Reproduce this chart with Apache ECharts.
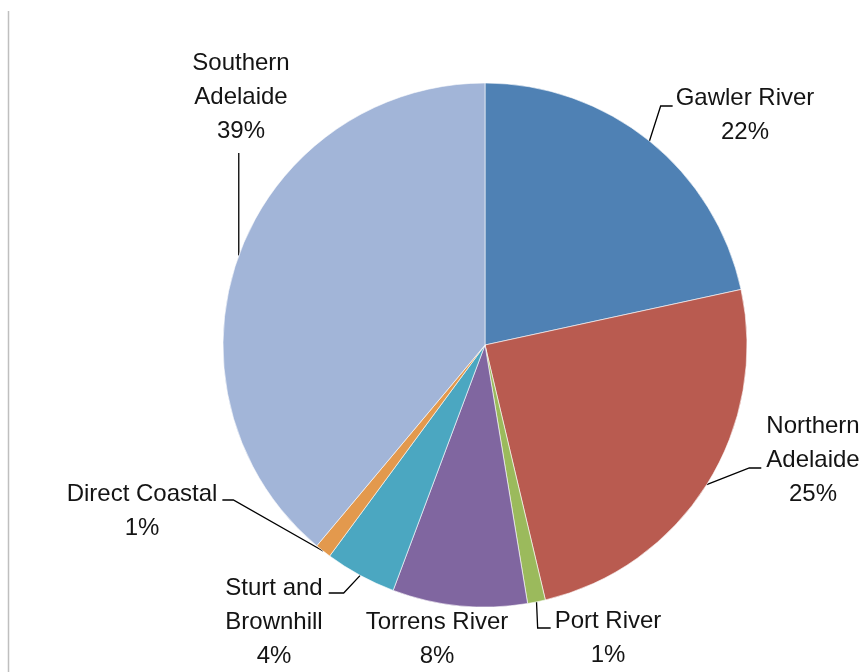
<!DOCTYPE html>
<html>
<head>
<meta charset="utf-8">
<script src="https://cdn.jsdelivr.net/npm/echarts@6/dist/echarts.min.js"></script>
<style>
  html, body { margin: 0; padding: 0; background: #fff; }
  #chart { width: 866px; height: 672px; }
</style>
</head>
<body>
<div id="chart"></div>
<script>
// Catchment areas (clockwise from 12 o'clock) and their shares
const catchments = ['Gawler River', 'Northern\nAdelaide', 'Port River', 'Torrens River',
                    'Sturt and\nBrownhill', 'Direct Coastal', 'Southern\nAdelaide'];
const shares = [21.6, 24.7, 1.1, 8.3, 4.4, 1.0, 38.9];
const sliceColors = ['#4F81B4', '#B95B50', '#9BBA5C', '#8066A0', '#4BA7C1', '#E3994D', '#A2B5D8'];

// Where each label block is centred, and how its leader line leaves it
const labelCentres = [[745, 115], [813, 460], [608, 638], [437, 639], [274, 622], [142, 511], [241, 97]];
// side: which edge of the label the leader meets; dy: offset from label centre; elbow: horizontal run
const leaders = [
  { side: 'left',  gap: 3, dy: -9,  elbow: 12 },
  { side: 'left',  gap: 5, dy: 8,   elbow: 12 },
  { side: 'left',  gap: 4, dy: -10, elbow: 13 },
  null,
  { side: 'right', gap: 6, dy: -29, elbow: 15 },
  { side: 'right', gap: 5, dy: -11, elbow: 11 },
  { side: 'bottom', gap: 5 }
];

const chart = echarts.init(document.getElementById('chart'), null, { renderer: 'canvas' });

const pieData = catchments.map((name, i) => ({
  name: name,
  value: shares[i],
  itemStyle: { color: sliceColors[i] },
  labelLine: { show: leaders[i] !== null }
}));

chart.setOption({
  backgroundColor: '#ffffff',
  animation: false,
  graphic: [{
    type: 'line',
    shape: { x1: 8.5, y1: 11, x2: 8.5, y2: 672 },
    style: { stroke: '#BFBFBF', lineWidth: 1.5 },
    silent: true
  }],
  series: [{
    type: 'pie',
    center: [485, 345],
    radius: 262,
    startAngle: 90,
    clockwise: true,
    avoidLabelOverlap: false,
    percentPrecision: 0,
    data: pieData,
    itemStyle: { borderColor: '#ffffff', borderWidth: 0.6 },
    label: {
      show: true,
      position: 'outside',
      formatter: '{b}\n{d}%',
      fontFamily: '"Liberation Sans", Arial, sans-serif',
      fontSize: 24,
      lineHeight: 34,
      color: '#141414',
      align: 'center'
    },
    labelLine: {
      show: true,
      length: 10,
      length2: 10,
      lineStyle: { color: '#000000', width: 1.3 }
    },
    emphasis: { disabled: true },
    labelLayout: function (p) {
      const i = p.dataIndex;
      const c = labelCentres[i];
      const w = p.labelRect.width, h = p.labelRect.height;
      const out = { x: c[0], y: c[1], align: 'center', verticalAlign: 'middle' };
      const ld = leaders[i];
      if (ld && p.labelLinePoints && p.labelLinePoints.length) {
        const a = p.labelLinePoints[0];
        let pts;
        if (ld.side === 'left') {
          const ex = c[0] - w / 2 - ld.gap, ey = c[1] + ld.dy;
          pts = [a, [ex - ld.elbow, ey], [ex, ey]];
        } else if (ld.side === 'right') {
          const ex = c[0] + w / 2 + ld.gap, ey = c[1] + ld.dy;
          pts = [a, [ex + ld.elbow, ey], [ex, ey]];
        } else {
          const ey = c[1] + h / 2 + ld.gap;
          pts = [a, [a[0], (a[1] + ey) / 2], [a[0], ey]];
        }
        out.labelLinePoints = pts;
      }
      return out;
    }
  }]
});
</script>
</body>
</html>
